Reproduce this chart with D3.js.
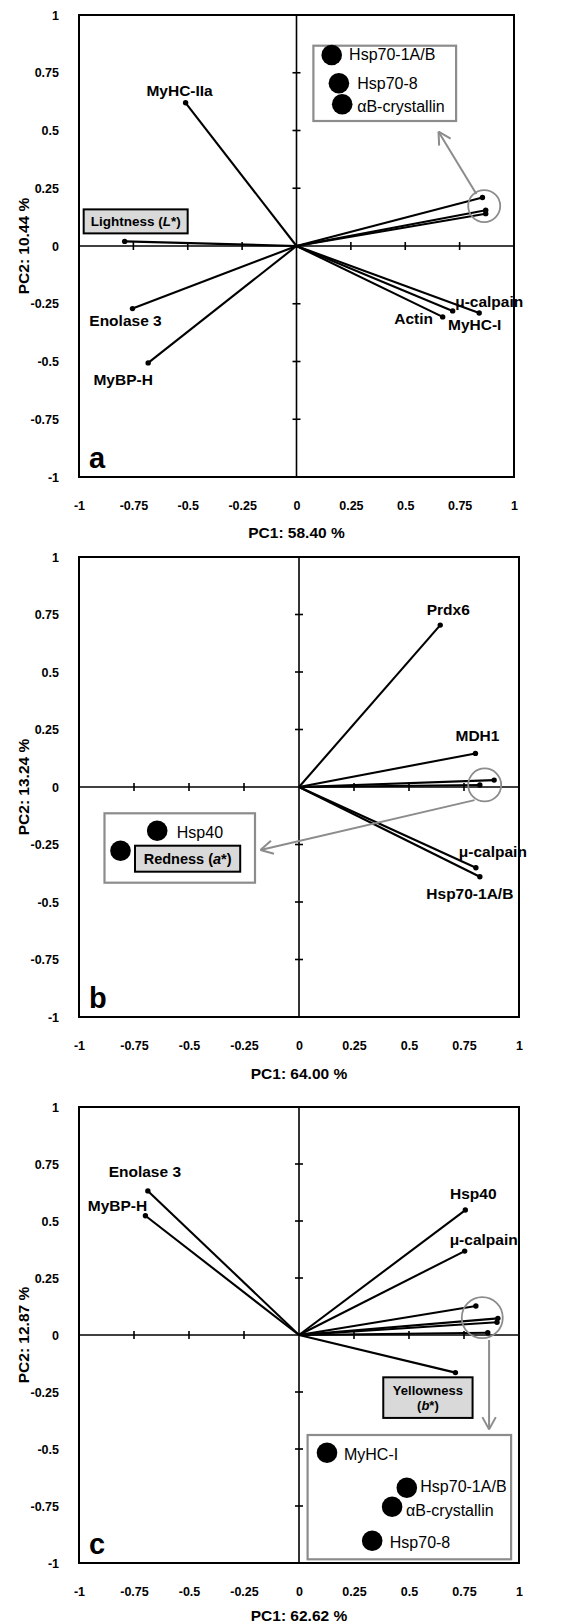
<!DOCTYPE html>
<html>
<head>
<meta charset="utf-8">
<script src="https://cdn.jsdelivr.net/npm/d3@7"></script>
<style>
  body { margin: 0; background: #fff; }
  svg { display: block; }
</style>
</head>
<body>
<svg id="chart" width="574" height="1624"></svg>
<script>
// panel a: lightness
const aNames = ["MyHC-IIa", "Lightness", "Enolase 3", "MyBP-H", "Actin", "MyHC-I", "μ-calpain", "Hsp70-1A/B", "Hsp70-8", "αB-crystallin"];
const aPC1 = [-0.51, -0.79, -0.754, -0.682, 0.672, 0.718, 0.84, 0.855, 0.87, 0.87];
const aPC2 = [0.62, 0.02, -0.271, -0.506, -0.307, -0.281, -0.29, 0.21, 0.155, 0.14];

// panel b: redness
const bNames = ["Prdx6", "MDH1", "μ-calpain", "Hsp70-1A/B", "Hsp40", "Redness"];
const bPC1 = [0.642, 0.802, 0.804, 0.822, 0.887, 0.822];
const bPC2 = [0.704, 0.146, -0.351, -0.39, 0.03, 0.009];

// panel c: yellowness
const cNames = ["Enolase 3", "MyBP-H", "Hsp40", "μ-calpain", "MyHC-I", "Hsp70-1A/B", "αB-crystallin", "Hsp70-8", "Yellowness"];
const cPC1 = [-0.687, -0.698, 0.756, 0.753, 0.804, 0.904, 0.9, 0.858, 0.711];
const cPC2 = [0.632, 0.523, 0.548, 0.368, 0.127, 0.073, 0.056, 0.01, -0.165];

const tickValues = [-1, -0.75, -0.5, -0.25, 0, 0.25, 0.5, 0.75, 1];
const tickLabels = ["-1", "-0.75", "-0.5", "-0.25", "0", "0.25", "0.5", "0.75", "1"];
const xTitles = ["PC1: 58.40 %", "PC1: 64.00 %", "PC1: 62.62 %"];
const yTitles = ["PC2: 10.44 %", "PC2: 13.24 %", "PC2: 12.87 %"];
const letters = ["a", "b", "c"];

const FONT = "'Liberation Sans', Arial, Helvetica, sans-serif";
const GREY = "#8c8c8c";

const panels = [
  {
    names: aNames, pc1: aPC1, pc2: aPC2,
    left: 79, right: 514, top: 15, bottom: 477, titleY: 533,
    labels: { "MyHC-IIa": [-6, -12], "Enolase 3": [-7, 12], "MyBP-H": [-25, 17], "Actin": [-29, 2], "MyHC-I": [22, 14], "μ-calpain": [10, -11] },
    tag: { name: "Lightness", dx: 11, dy: -20, w: 104, h: 24, size: 13.5, lines: [[["Lightness (", "normal"], ["L", "italic"], ["*)", "normal"]]] },
    ring: { at: [0.863, 0.173], r: 16 },
    arrow: { from: [0.827, 0.225], to: [0.653, 0.495] },
    legend: { x: 313.4, y: 45.7, w: 142.7, h: 75.3,
      items: [ { name: "Hsp70-1A/B", cx: 18.3, cy: 9.3, tx: 35.7, ty: 9 },
               { name: "Hsp70-8", cx: 25.5, cy: 37.6, tx: 43.8, ty: 37.5 },
               { name: "αB-crystallin", cx: 28.8, cy: 58.6, tx: 43.8, ty: 61 } ] }
  },
  {
    names: bNames, pc1: bPC1, pc2: bPC2,
    left: 79, right: 519, top: 557, bottom: 1017, titleY: 1074,
    labels: { "Prdx6": [8, -16], "MDH1": [2, -18], "μ-calpain": [17, -16], "Hsp70-1A/B": [-10, 17] },
    ring: { at: [0.844, 0.009], r: 16.5 },
    arrow: { from: [0.798, -0.057], to: [-0.175, -0.274] },
    legend: { x: 104.5, y: 813.3, w: 150.5, h: 69.4,
      items: [ { name: "Hsp40", cx: 52.7, cy: 17.4, tx: 72.3, ty: 19 },
               { name: "Redness", cx: 16, cy: 37.4, box: { x: 30.5, y: 32.4, w: 105.2, h: 26 },
                 lines: [[["Redness (", "normal"], ["a", "italic"], ["*)", "normal"]]] } ] }
  },
  {
    names: cNames, pc1: cPC1, pc2: cPC2,
    left: 79, right: 519, top: 1107, bottom: 1563, titleY: 1616,
    labels: { "Enolase 3": [-3, -19], "MyBP-H": [-28, -10], "Hsp40": [8, -16], "μ-calpain": [19, -12] },
    tag: { name: "Yellowness", dx: -27.5, dy: 25, w: 89.3, h: 40.6, size: 13,
      lines: [[["Yellowness", "normal"]], [["(", "normal"], ["b", "italic"], ["*)", "normal"]]] },
    ring: { at: [0.833, 0.076], r: 20.5 },
    arrow: { from: [0.864, -0.022], to: [0.864, -0.414] },
    legend: { x: 307.6, y: 1435, w: 203.5, h: 124.3,
      items: [ { name: "MyHC-I", cx: 19.4, cy: 17.7, tx: 36.4, ty: 19.3 },
               { name: "Hsp70-1A/B", cx: 99.2, cy: 52.7, tx: 112.7, ty: 51.7 },
               { name: "αB-crystallin", cx: 84.5, cy: 71.7, tx: 98.5, ty: 75 },
               { name: "Hsp70-8", cx: 64.6, cy: 105.7, tx: 82.2, ty: 107.3 } ] }
  }
];

const svg = d3.select("#chart").attr("font-family", FONT);

// text made of styled pieces, lines stacked around cy
function richText(g, cx, cy, lines, size) {
  const lh = size * 1.15;
  lines.forEach((parts, li) => {
    const t = g.append("text")
      .attr("x", cx)
      .attr("y", cy + (li - (lines.length - 1) / 2) * lh)
      .attr("dy", "0.35em")
      .attr("text-anchor", "middle")
      .attr("font-size", size)
      .attr("font-weight", "bold");
    parts.forEach(p => t.append("tspan").attr("font-style", p[1]).text(p[0]));
  });
}

function drawArrow(g, x1, y1, x2, y2) {
  g.append("line")
    .attr("x1", x1).attr("y1", y1).attr("x2", x2).attr("y2", y2)
    .attr("stroke", GREY).attr("stroke-width", 2);
  const ang = Math.atan2(y1 - y2, x1 - x2);
  const len = 14, spread = 0.5;
  [-spread, spread].forEach(s => {
    g.append("line")
      .attr("x1", x2).attr("y1", y2)
      .attr("x2", x2 + len * Math.cos(ang + s))
      .attr("y2", y2 + len * Math.sin(ang + s))
      .attr("stroke", GREY).attr("stroke-width", 2);
  });
}

panels.forEach((p, k) => {
  const x = d3.scaleLinear().domain([-1, 1]).range([p.left, p.right]);
  const y = d3.scaleLinear().domain([-1, 1]).range([p.bottom, p.top]);
  const g = svg.append("g");

  const points = p.names.map((n, i) => ({ name: n, x: p.pc1[i], y: p.pc2[i] }));

  // frame
  g.append("rect")
    .attr("x", p.left).attr("y", p.top)
    .attr("width", p.right - p.left).attr("height", p.bottom - p.top)
    .attr("fill", "none").attr("stroke", "#000").attr("stroke-width", 2);

  // zero axes
  g.append("line")
    .attr("x1", x(-1)).attr("x2", x(1)).attr("y1", y(0)).attr("y2", y(0))
    .attr("stroke", "#000").attr("stroke-width", 1.6);
  g.append("line")
    .attr("x1", x(0)).attr("x2", x(0)).attr("y1", y(-1)).attr("y2", y(1))
    .attr("stroke", "#000").attr("stroke-width", 1.6);

  const inner = tickValues.filter(v => v !== 0 && Math.abs(v) < 1);
  g.selectAll(".xt").data(inner).join("line")
    .attr("x1", d => x(d)).attr("x2", d => x(d))
    .attr("y1", y(0) - 4).attr("y2", y(0) + 4)
    .attr("stroke", "#000").attr("stroke-width", 1.6);
  g.selectAll(".yt").data(inner).join("line")
    .attr("y1", d => y(d)).attr("y2", d => y(d))
    .attr("x1", x(0) - 4).attr("x2", x(0) + 4)
    .attr("stroke", "#000").attr("stroke-width", 1.6);

  // tick labels
  const fmt = d => tickLabels[tickValues.indexOf(d)];
  g.append("g")
    .attr("transform", `translate(${p.left},0)`)
    .call(d3.axisLeft(y).tickValues(tickValues).tickFormat(fmt).tickSize(0).tickPadding(20))
    .attr("font-family", FONT).attr("font-size", 12.5).attr("font-weight", "bold")
    .call(a => a.select(".domain").remove())
    .selectAll("text").attr("fill", "#000");
  g.append("g")
    .attr("transform", `translate(0,${p.bottom})`)
    .call(d3.axisBottom(x).tickValues(tickValues).tickFormat(fmt).tickSize(0).tickPadding(24))
    .attr("font-family", FONT).attr("font-size", 12.5).attr("font-weight", "bold")
    .call(a => a.select(".domain").remove())
    .selectAll("text").attr("fill", "#000");

  // axis titles
  g.append("text")
    .attr("x", (p.left + p.right) / 2).attr("y", p.titleY).attr("dy", "0.35em")
    .attr("text-anchor", "middle").attr("font-size", 15.5).attr("font-weight", "bold")
    .text(xTitles[k]);
  g.append("text")
    .attr("transform", `translate(24,${(p.top + p.bottom) / 2}) rotate(-90)`)
    .attr("dy", "0.35em")
    .attr("text-anchor", "middle").attr("font-size", 15.5).attr("font-weight", "bold")
    .text(yTitles[k]);

  // loading vectors
  g.selectAll(".vec").data(points).join("line")
    .attr("x1", x(0)).attr("y1", y(0))
    .attr("x2", d => x(d.x)).attr("y2", d => y(d.y))
    .attr("stroke", "#000").attr("stroke-width", 2.1);
  g.selectAll(".dot").data(points).join("circle")
    .attr("cx", d => x(d.x)).attr("cy", d => y(d.y)).attr("r", 2.7)
    .attr("fill", "#000");

  // labels at vector ends
  g.selectAll(".lab").data(points.filter(d => p.labels[d.name])).join("text")
    .attr("x", d => x(d.x) + p.labels[d.name][0])
    .attr("y", d => y(d.y) + p.labels[d.name][1])
    .attr("dy", "0.35em")
    .attr("text-anchor", "middle").attr("font-size", 15.5).attr("font-weight", "bold")
    .text(d => d.name);

  // boxed label (colour parameter)
  if (p.tag) {
    const d = points.find(q => q.name === p.tag.name);
    const cx = x(d.x) + p.tag.dx, cy = y(d.y) + p.tag.dy;
    g.append("rect")
      .attr("x", cx - p.tag.w / 2).attr("y", cy - p.tag.h / 2)
      .attr("width", p.tag.w).attr("height", p.tag.h)
      .attr("fill", "#d9d9d9").attr("stroke", "#000").attr("stroke-width", 2);
    richText(g, cx, cy, p.tag.lines, p.tag.size);
  }

  // ring round the crowded vectors, arrow to the legend
  g.append("circle")
    .attr("cx", x(p.ring.at[0])).attr("cy", y(p.ring.at[1])).attr("r", p.ring.r)
    .attr("fill", "none").attr("stroke", GREY).attr("stroke-width", 1.8);
  drawArrow(g, x(p.arrow.from[0]), y(p.arrow.from[1]), x(p.arrow.to[0]), y(p.arrow.to[1]));

  const L = p.legend;
  const lg = g.append("g").attr("transform", `translate(${L.x},${L.y})`);
  lg.append("rect").attr("width", L.w).attr("height", L.h)
    .attr("fill", "#fff").attr("stroke", GREY).attr("stroke-width", 2.2);
  L.items.forEach(it => {
    if (it.box) {
      lg.append("rect")
        .attr("x", it.box.x).attr("y", it.box.y).attr("width", it.box.w).attr("height", it.box.h)
        .attr("fill", "#d9d9d9").attr("stroke", "#000").attr("stroke-width", 2);
      richText(lg, it.box.x + it.box.w / 2, it.box.y + it.box.h / 2, it.lines, 14.5);
    } else {
      lg.append("text")
        .attr("x", it.tx).attr("y", it.ty).attr("dy", "0.35em")
        .attr("font-size", 16)
        .text(it.name);
    }
    lg.append("circle").attr("cx", it.cx).attr("cy", it.cy).attr("r", 10.3).attr("fill", "#000");
  });

  // panel letter
  g.append("text")
    .attr("x", p.left + 10).attr("y", p.bottom - 9)
    .attr("font-size", 29).attr("font-weight", "bold")
    .text(letters[k]);
});
</script>
</body>
</html>
